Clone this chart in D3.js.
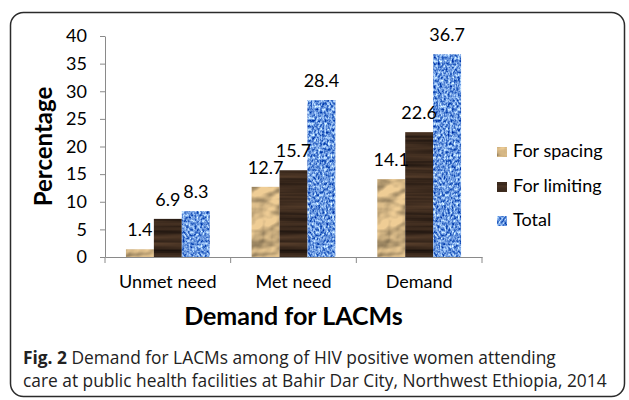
<!DOCTYPE html>
<html>
<head>
<meta charset="utf-8">
<script src="https://cdn.jsdelivr.net/npm/d3@7"></script>
<style>
  body { margin: 0; background: #fff; }
  svg { display: block; }
</style>
</head>
<body>
<svg id="chart" width="629" height="400"></svg>
<script>
// values
const categories = ["Unmet need", "Met need", "Demand"];
const seriesNames = ["For spacing", "For limiting", "Total"];
const forSpacing = [1.4, 12.7, 14.1];
const forLimiting = [6.9, 15.7, 22.6];
const total = [8.3, 28.4, 36.7];
const yTicks = [0, 5, 10, 15, 20, 25, 30, 35, 40];
const captionBold = "Fig. 2";
const captionLine1 = " Demand for LACMs among of HIV positive women attending";
const captionLine2 = "care at public health facilities at Bahir Dar City, Northwest Ethiopia, 2014";

const seriesValues = [forSpacing, forLimiting, total];

const svg = d3.select("#chart");
const chartFont = "Lato, 'Open Sans', sans-serif";
const axisColor = "#8a8a8a";

const margin = { left: 105, right: 147, top: 36, bottom: 143 };
const width = 629, height = 400;

// frame
svg.append("rect")
  .attr("x", 10.5).attr("y", 12.5)
  .attr("width", 614).attr("height", 384)
  .attr("rx", 13).attr("ry", 13)
  .attr("fill", "none")
  .attr("stroke", "#2b2b2b")
  .attr("stroke-width", 1.5);

// textures
const defs = svg.append("defs");

function texFilter(id) {
  return defs.append("filter").attr("id", id)
    .attr("x", 0).attr("y", 0).attr("width", 1).attr("height", 1)
    .attr("color-interpolation-filters", "sRGB");
}

// crumpled paper
const paper = texFilter("spacingFill_f");
paper.append("feTurbulence")
  .attr("type", "fractalNoise").attr("baseFrequency", "0.03 0.045")
  .attr("numOctaves", 3).attr("seed", 7).attr("result", "noise");
const light = paper.append("feDiffuseLighting")
  .attr("in", "noise").attr("surfaceScale", 4)
  .attr("diffuseConstant", 1.15).attr("lighting-color", "#ffffff")
  .attr("result", "shade");
light.append("feDistantLight").attr("azimuth", 225).attr("elevation", 50);
paper.append("feFlood").attr("flood-color", "#efcd95").attr("result", "base");
paper.append("feBlend").attr("in", "base").attr("in2", "shade")
  .attr("mode", "multiply").attr("result", "tinted");
paper.append("feComposite").attr("in", "tinted").attr("in2", "SourceGraphic")
  .attr("operator", "in");

// dark wood
const wood = texFilter("limitingFill_f");
wood.append("feTurbulence")
  .attr("type", "fractalNoise").attr("baseFrequency", "0.008 0.3")
  .attr("numOctaves", 2).attr("seed", 3).attr("result", "noise");
wood.append("feColorMatrix").attr("in", "noise").attr("type", "matrix")
  .attr("values", [
    0.3, 0, 0, 0, 0.085,
    0.22, 0, 0, 0, 0.055,
    0.15, 0, 0, 0, 0.04,
    0, 0, 0, 0, 1].join(" "))
  .attr("result", "col");
wood.append("feComposite").attr("in", "col").attr("in2", "SourceGraphic")
  .attr("operator", "in");

// blue weave
const weave = texFilter("totalFill_f");
weave.append("feTurbulence")
  .attr("type", "fractalNoise").attr("baseFrequency", "0.5 0.35")
  .attr("numOctaves", 2).attr("seed", 11).attr("result", "noise");
weave.append("feColorMatrix").attr("in", "noise").attr("type", "matrix")
  .attr("values", [
    1.5, 0, 0, 0, -0.34,
    1.3, 0, 0, 0, -0.06,
    0.7, 0, 0, 0, 0.52,
    0, 0, 0, 0, 1].join(" "))
  .attr("result", "col");
weave.append("feComposite").attr("in", "col").attr("in2", "SourceGraphic")
  .attr("operator", "in");

const filterIds = ["spacingFill_f", "limitingFill_f", "totalFill_f"];
const baseColors = ["#d2ae78", "#3e2b1f", "#5f8ad6"];

// scales
const x0 = d3.scaleBand()
  .domain(categories)
  .range([margin.left, width - margin.right])
  .padding(0);

const x1 = d3.scaleBand()
  .domain(seriesNames)
  .range([0, x0.bandwidth()])
  .paddingInner(0)
  .paddingOuter(0.75);

const y = d3.scaleLinear()
  .domain([0, 40])
  .range([height - margin.bottom, margin.top]);

// y axis
const yAxis = svg.append("g")
  .attr("transform", `translate(${margin.left},0)`)
  .call(d3.axisLeft(y).tickValues(yTicks).tickSize(5).tickPadding(13).tickSizeOuter(0));
yAxis.select(".domain").attr("stroke", axisColor);
yAxis.selectAll(".tick line").attr("stroke", axisColor);
yAxis.selectAll(".tick text")
  .attr("font-family", chartFont).attr("font-size", 18).attr("fill", "#000");

// x axis
const xAxis = svg.append("g")
  .attr("transform", `translate(0,${y(0)})`)
  .call(d3.axisBottom(x0).tickSize(0).tickPadding(18).tickSizeOuter(0));
xAxis.select(".domain").attr("stroke", axisColor);
xAxis.selectAll(".tick text")
  .attr("font-family", chartFont).attr("font-size", 18).attr("fill", "#000");

const boundaries = categories.map(c => x0(c)).concat([x0.range()[1]]);
xAxis.selectAll(".bound")
  .data(boundaries)
  .join("line")
  .attr("class", "bound")
  .attr("x1", d => d).attr("x2", d => d)
  .attr("y1", 0).attr("y2", 6)
  .attr("stroke", axisColor);

// bars
const groups = svg.append("g").selectAll("g")
  .data(categories)
  .join("g")
  .attr("transform", d => `translate(${x0(d)},0)`);

groups.selectAll("rect")
  .data((c, i) => seriesNames.map((s, j) => ({ series: s, j: j, value: seriesValues[j][i] })))
  .join("rect")
  .attr("x", d => x1(d.series))
  .attr("y", d => y(d.value))
  .attr("width", x1.bandwidth())
  .attr("height", d => y(0) - y(d.value))
  .attr("fill", d => baseColors[d.j])
  .attr("filter", d => `url(#${filterIds[d.j]})`);

groups.selectAll("text")
  .data((c, i) => seriesNames.map((s, j) => ({ series: s, j: j, value: seriesValues[j][i] })))
  .join("text")
  .attr("x", d => x1(d.series) + x1.bandwidth() / 2)
  .attr("y", d => y(d.value) - 13)
  .attr("text-anchor", "middle")
  .attr("font-family", chartFont)
  .attr("font-size", 18)
  .text(d => d.value.toFixed(1));

// axis titles
svg.append("text")
  .attr("transform", `translate(52,${(y(0) + y(40)) / 2}) rotate(-90)`)
  .attr("text-anchor", "middle")
  .attr("font-family", chartFont)
  .attr("font-weight", "bold")
  .attr("font-size", 24)
  .text("Percentage");

svg.append("text")
  .attr("x", (x0.range()[0] + x0.range()[1]) / 2)
  .attr("y", 325)
  .attr("text-anchor", "middle")
  .attr("font-family", chartFont)
  .attr("font-weight", "bold")
  .attr("font-size", 25)
  .text("Demand for LACMs");

// legend
const legend = svg.append("g").attr("transform", "translate(497,0)");
const legendRows = [157, 192, 226];
const legendItem = legend.selectAll("g")
  .data(seriesNames)
  .join("g")
  .attr("transform", (d, i) => `translate(0,${legendRows[i]})`);
legendItem.append("rect")
  .attr("x", 0).attr("y", -10)
  .attr("width", 10).attr("height", 10)
  .attr("fill", (d, i) => baseColors[i])
  .attr("filter", (d, i) => `url(#${filterIds[i]})`);
legendItem.append("text")
  .attr("x", 16)
  .attr("font-family", chartFont)
  .attr("font-size", 18)
  .text(d => d);

// caption
const capFont = "'Open Sans', 'Noto Sans', sans-serif";
const cap1 = svg.append("text")
  .attr("x", 23).attr("y", 364)
  .attr("font-family", capFont).attr("font-size", 15).attr("fill", "#222");
cap1.append("tspan").attr("font-weight", "bold").text(captionBold);
cap1.append("tspan").text(captionLine1);
const cap2 = svg.append("text")
  .attr("x", 23).attr("y", 387)
  .attr("font-family", capFont).attr("font-size", 15).attr("fill", "#222")
  .text(captionLine2);

// fit caption font so the second line ends where the figure's does
const w2 = cap2.node().getComputedTextLength();
const capSize = 15 * 584 / w2;
cap1.attr("font-size", capSize);
cap2.attr("font-size", capSize);
</script>
</body>
</html>
